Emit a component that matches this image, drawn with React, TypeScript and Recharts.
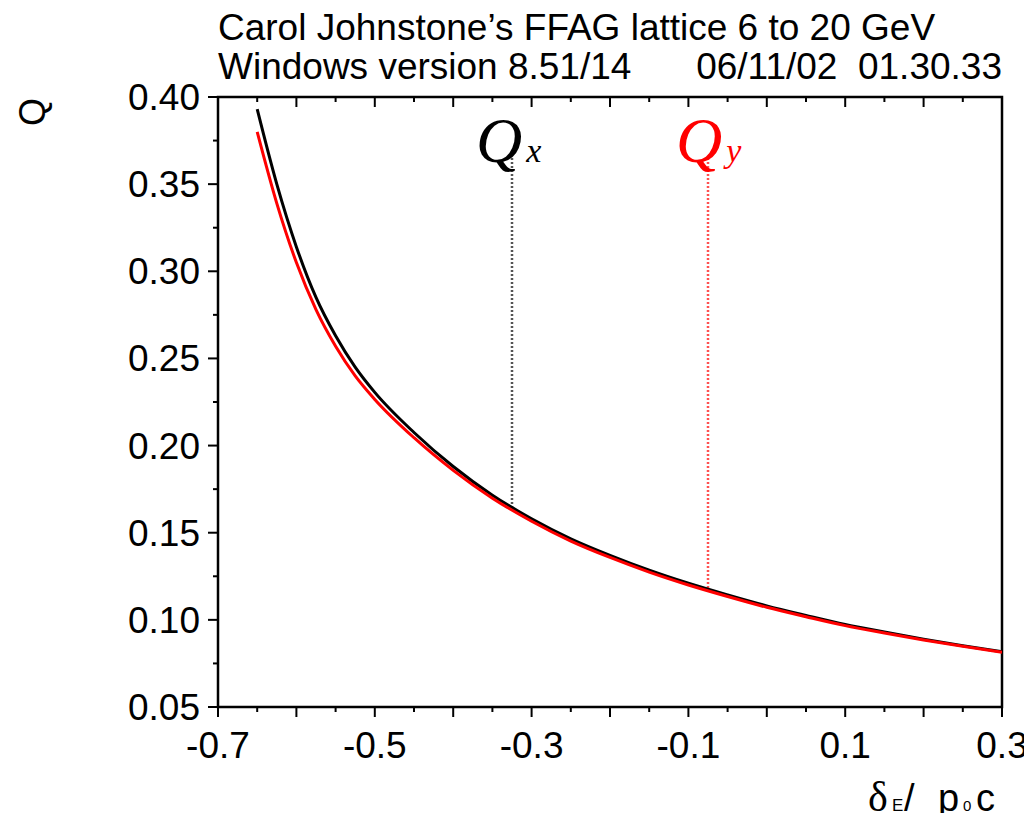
import React from 'react';
import { LineChart, Line, XAxis, YAxis, ReferenceArea, ReferenceDot } from 'recharts';

// energy offset dE/p0c
const deltaValues = [-0.65, -0.625, -0.6, -0.575, -0.55, -0.525, -0.5, -0.45, -0.4, -0.35, -0.3, -0.25, -0.2, -0.15, -0.1, -0.05, 0, 0.05, 0.1, 0.15, 0.2, 0.25, 0.3];
// horizontal tune (black)
const qxValues = [0.393, 0.35, 0.314, 0.285, 0.263, 0.245, 0.2305, 0.2075, 0.188, 0.1715, 0.158, 0.1465, 0.137, 0.1285, 0.121, 0.1143, 0.108, 0.1025, 0.0973, 0.093, 0.0889, 0.0851, 0.0817];
// vertical tune (red)
const qyValues = [0.38, 0.339, 0.305, 0.278, 0.257, 0.24, 0.2265, 0.2045, 0.1858, 0.1698, 0.1566, 0.1452, 0.1358, 0.1274, 0.12, 0.1134, 0.1072, 0.1018, 0.0967, 0.0925, 0.0885, 0.0848, 0.0814];

const xTicks = [-0.7, -0.65, -0.6, -0.55, -0.5, -0.45, -0.4, -0.35, -0.3, -0.25, -0.2, -0.15, -0.1, -0.05, 0, 0.05, 0.1, 0.15, 0.2, 0.25, 0.3];
const yTicks = [0.05, 0.075, 0.1, 0.125, 0.15, 0.175, 0.2, 0.225, 0.25, 0.275, 0.3, 0.325, 0.35, 0.375, 0.4];

// marker lines under the Qx / Qy labels
const qxMarker = [{ d: -0.325, q: 0.365 }, { d: -0.325, q: 0.164 }];
const qyMarker = [{ d: -0.075, q: 0.365 }, { d: -0.075, q: 0.1175 }];

const data = deltaValues.map((d, i) => ({ d, qx: qxValues[i], qy: qyValues[i] }));

const sans = '"Liberation Sans", Arial, sans-serif';
const serif = '"Liberation Serif", "Times New Roman", serif';

const BottomTick = (props: any) => {
  const { x, y, payload } = props;
  const v = payload.value;
  const major = Math.round(v * 100) % 10 === 0;
  const labeled = major && Math.abs(Math.round(v * 10)) % 2 === 1;
  return (
    <g>
      <line x1={x} x2={x} y1={y} y2={y + (major ? 10 : 5)} stroke="#000" strokeWidth={2} />
      {labeled && (
        <text x={x} y={y + 51} textAnchor="middle" fontSize={37} fontFamily={sans} fill="#000">
          {v.toFixed(1)}
        </text>
      )}
    </g>
  );
};

const TopTick = (props: any) => {
  const { x, y, payload } = props;
  const major = Math.round(payload.value * 100) % 10 === 0;
  return <line x1={x} x2={x} y1={y} y2={y + (major ? 10 : 5)} stroke="#000" strokeWidth={2} />;
};

const LeftTick = (props: any) => {
  const { x, y, payload } = props;
  const v = payload.value;
  const major = Math.round(v * 1000) % 50 === 0;
  return (
    <g>
      <line x1={x} x2={x - (major ? 10 : 5)} y1={y} y2={y} stroke="#000" strokeWidth={2} />
      {major && (
        <text x={x - 18} y={y + 13} textAnchor="end" fontSize={37} fontFamily={sans} fill="#000">
          {v.toFixed(2)}
        </text>
      )}
    </g>
  );
};

const tuneLabel = (sub: string, color: string, shift: number) => (p: any) => (
  <text x={p.cx - shift} y={p.cy + 4} fill={color} fontFamily={serif} fontStyle="italic">
    <tspan fontSize={64}>Q</tspan>
    <tspan fontSize={34} dx={4}>{sub}</tspan>
  </text>
);

export default function App() {
  return (
    <div style={{ position: 'relative', width: 1024, height: 813, marginBottom: -8 }}>
      <LineChart width={1024} height={805} data={data} margin={{ top: 88, right: 30, left: 0, bottom: 0 }}>
        <XAxis
          dataKey="d"
          type="number"
          domain={[-0.7, 0.3]}
          ticks={xTicks}
          interval={0}
          allowDataOverflow
          axisLine={false}
          tickLine={false}
          tickSize={0}
          tickMargin={0}
          height={106}
          tick={BottomTick}
        />
        <XAxis
          xAxisId="top"
          orientation="top"
          dataKey="d"
          type="number"
          domain={[-0.7, 0.3]}
          ticks={xTicks}
          interval={0}
          allowDataOverflow
          axisLine={false}
          tickLine={false}
          tickSize={0}
          tickMargin={0}
          height={1}
          tick={TopTick}
        />
        <YAxis
          type="number"
          domain={[0.05, 0.4]}
          ticks={yTicks}
          interval={0}
          allowDataOverflow
          axisLine={false}
          tickLine={false}
          tickSize={0}
          tickMargin={0}
          width={210}
          tick={LeftTick}
        />
        <ReferenceArea x1={-0.7} x2={0.3} y1={0.05} y2={0.4} fill="none" stroke="#000" strokeWidth={2.5} />
        <Line data={qxMarker} dataKey="q" stroke="#555" strokeWidth={2.5} strokeDasharray="2 2" dot={false} isAnimationActive={false} />
        <Line data={qyMarker} dataKey="q" stroke="#ff5050" strokeWidth={2.5} strokeDasharray="2 2" dot={false} isAnimationActive={false} />
        <Line type="monotone" dataKey="qx" stroke="#000" strokeWidth={3} dot={false} isAnimationActive={false} />
        <Line type="monotone" dataKey="qy" stroke="#ff0000" strokeWidth={3} dot={false} isAnimationActive={false} />
        <ReferenceDot x={-0.325} y={0.365} r={0} shape={tuneLabel('x', '#000', 36)} />
        <ReferenceDot x={-0.075} y={0.365} r={0} shape={tuneLabel('y', '#ff0000', 32)} />
      </LineChart>
      <svg width={1024} height={813} style={{ position: 'absolute', left: 0, top: 0, pointerEvents: 'none' }}>
        <text x={210} y={32} fontSize={37} fontFamily={sans} fill="#000">
          Carol Johnstone’s FFAG lattice 6 to 20 GeV
        </text>
        <text x={210} y={71} fontSize={37} fontFamily={sans} fill="#000">
          Windows version 8.51/14
        </text>
        <text x={994} y={71} fontSize={37} fontFamily={sans} fill="#000" textAnchor="end" xmlSpace="preserve">
          06/11/02  01.30.33
        </text>
        <text x={24} y={104} fontSize={36} fontFamily={sans} fill="#000" textAnchor="middle" dominantBaseline="central" transform="rotate(-90 24 104)">
          Q
        </text>
        <text y={803} fontSize={38} fontFamily={sans} fill="#000">
          <tspan x={860} fontSize={42} fontFamily={serif}>δ</tspan>
          <tspan x={884} fontSize={17}>E</tspan>
          <tspan x={896}>/</tspan>
          <tspan x={930}>p</tspan>
          <tspan x={955} fontSize={15}>0</tspan>
          <tspan x={968}>c</tspan>
        </text>
      </svg>
    </div>
  );
}
